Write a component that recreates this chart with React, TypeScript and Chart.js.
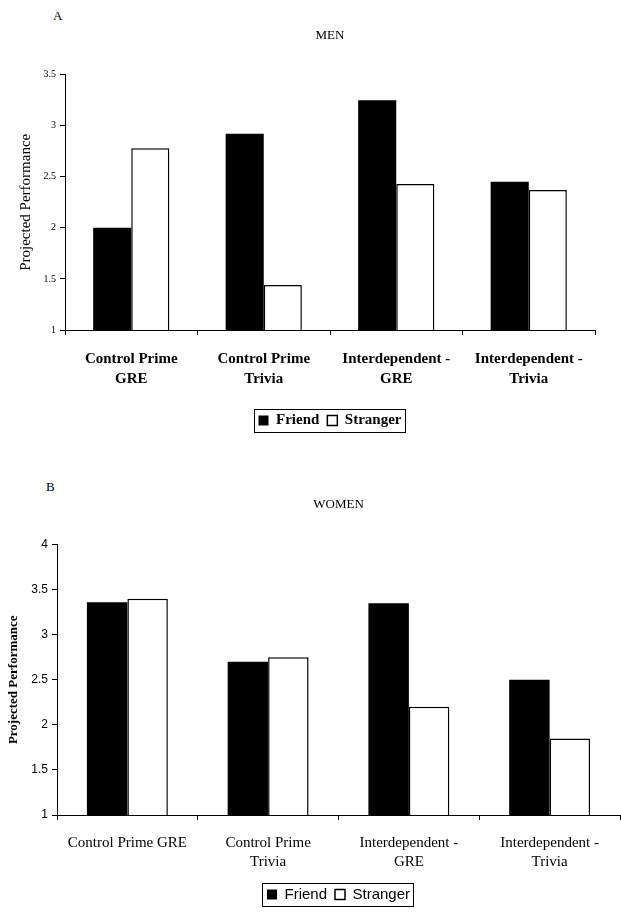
import React, { useEffect, useRef } from 'react';
import { Chart, registerables } from 'chart.js';

Chart.register(...registerables);

// ---- data ----
const seriesNames = ['Friend', 'Stranger'];
const menCategories: (string | string[])[] = [
  ['Control Prime', 'GRE'],
  ['Control Prime', 'Trivia'],
  ['Interdependent -', 'GRE'],
  ['Interdependent -', 'Trivia'],
];
const womenCategories: (string | string[])[] = [
  'Control Prime GRE',
  ['Control Prime', 'Trivia'],
  ['Interdependent -', 'GRE'],
  ['Interdependent -', 'Trivia'],
];
const menFriend = [2.0, 2.92, 3.25, 2.45];
const menStranger = [2.78, 1.44, 2.43, 2.37];
const womenFriend = [3.36, 2.7, 3.35, 2.5];
const womenStranger = [3.4, 2.75, 2.2, 1.85];
const menYRange = [1, 3.5];
const womenYRange = [1, 4];
const yStep = 0.5;

const SERIF = "'Liberation Serif', 'Times New Roman', serif";
const SANS = "'Liberation Sans', Arial, sans-serif";

const legendBorder = {
  id: 'legendBorder',
  afterDraw(chart: any) {
    const lg = chart.legend;
    if (!lg || !lg.legendHitBoxes || !lg.legendHitBoxes.length) return;
    let l = Infinity, r = -Infinity, t = Infinity, b = -Infinity;
    for (const h of lg.legendHitBoxes) {
      l = Math.min(l, h.left);
      r = Math.max(r, h.left + h.width);
      t = Math.min(t, h.top);
      b = Math.max(b, h.top + h.height);
    }
    const ctx = chart.ctx;
    ctx.save();
    ctx.strokeStyle = '#000';
    ctx.lineWidth = 1;
    ctx.strokeRect(Math.round(l - 5) + 0.5, Math.round(t - 4) + 0.5, Math.round(r - l + 8), Math.round(b - t + 8));
    ctx.restore();
  },
};

type PanelProps = {
  categories: (string | string[])[];
  friend: number[];
  stranger: number[];
  yRange: number[];
  title: string;
  titlePadTop: number;
  titlePadBottom: number;
  yWidth: number;
  xHeight: number;
  xTickPad: number;
  padRight: number;
  padBottom: number;
  yTickFont: any;
  yTitleFont: any;
  yTitlePad: number;
  xTickFont: any;
  legendFont: any;
};

function Panel(p: PanelProps) {
  const ref = useRef<HTMLCanvasElement | null>(null);
  useEffect(() => {
    if (!ref.current) return;
    const chart = new Chart(ref.current, {
      type: 'bar',
      data: {
        labels: p.categories as any,
        datasets: [
          {
            label: seriesNames[0],
            data: p.friend,
            backgroundColor: '#000',
            borderColor: '#000',
            borderWidth: 0,
            barPercentage: 1,
            categoryPercentage: 0.575,
          },
          {
            label: seriesNames[1],
            data: p.stranger,
            backgroundColor: '#fff',
            borderColor: '#000',
            borderWidth: 1.5,
            barPercentage: 1,
            categoryPercentage: 0.575,
          },
        ],
      },
      options: {
        animation: false,
        responsive: true,
        maintainAspectRatio: false,
        color: '#000',
        layout: { padding: { left: 0, right: p.padRight, top: 0, bottom: p.padBottom } },
        plugins: {
          title: {
            display: true,
            text: p.title,
            fullSize: false,
            color: '#000',
            font: { family: SERIF, size: 13, weight: 'normal' },
            padding: { top: p.titlePadTop, bottom: p.titlePadBottom },
          },
          legend: {
            display: true,
            position: 'bottom',
            fullSize: false,
            labels: {
              color: '#000',
              font: p.legendFont,
              boxWidth: 10,
              boxHeight: 10,
              padding: 8,
            },
          },
          tooltip: { enabled: false },
        },
        scales: {
          x: {
            grid: { display: true, drawOnChartArea: false, drawTicks: true, tickLength: 5, color: '#000', offset: true },
            border: { display: true, color: '#000', width: 1 },
            ticks: { color: '#000', font: p.xTickFont, padding: p.xTickPad, maxRotation: 0, autoSkip: false },
            afterFit: (s: any) => { s.height = p.xHeight; },
          },
          y: {
            min: p.yRange[0],
            max: p.yRange[1],
            grid: { display: true, drawOnChartArea: false, drawTicks: true, tickLength: 5, color: '#000' },
            border: { display: true, color: '#000', width: 1 },
            ticks: {
              stepSize: yStep,
              color: '#000',
              font: p.yTickFont,
              padding: 4,
              callback: (v: any) => String(Number(v)),
            },
            title: {
              display: true,
              text: 'Projected Performance',
              color: '#000',
              font: p.yTitleFont,
              padding: { top: p.yTitlePad, bottom: 0 },
            },
            afterFit: (s: any) => { s.width = p.yWidth; },
          },
        },
      },
      plugins: [legendBorder],
    } as any);
    return () => chart.destroy();
  }, []);
  return <canvas ref={ref} />;
}

const letterStyle: React.CSSProperties = {
  position: 'absolute',
  fontFamily: SERIF,
  fontSize: 13,
  lineHeight: '15px',
  color: '#000',
};

export default function App() {
  return (
    <div style={{ position: 'absolute', left: 0, top: 0, width: 621, height: 918, background: '#fff' }}>
      <div style={{ ...letterStyle, left: 53, top: 8 }}>A</div>
      <div style={{ ...letterStyle, left: 46, top: 479 }}>B</div>
      <div style={{ position: 'absolute', left: 0, top: 0, width: 621, height: 455 }}>
        <Panel
          categories={menCategories}
          friend={menFriend}
          stranger={menStranger}
          yRange={menYRange}
          title="MEN"
          titlePadTop={28}
          titlePadBottom={31}
          yWidth={65}
          xHeight={75}
          xTickPad={14}
          padRight={26}
          padBottom={17}
          yTickFont={{ family: SERIF, size: 10 }}
          yTitleFont={{ family: SERIF, size: 15 }}
          yTitlePad={17}
          xTickFont={{ family: SERIF, size: 15, weight: 'bold', lineHeight: 1.35 }}
          legendFont={{ family: SERIF, size: 15, weight: 'bold' }}
        />
      </div>
      <div style={{ position: 'absolute', left: 0, top: 460, width: 621, height: 458 }}>
        <Panel
          categories={womenCategories}
          friend={womenFriend}
          stranger={womenStranger}
          yRange={womenYRange}
          title="WOMEN"
          titlePadTop={37}
          titlePadBottom={32}
          yWidth={57}
          xHeight={64}
          xTickPad={13}
          padRight={1}
          padBottom={6}
          yTickFont={{ family: SANS, size: 12 }}
          yTitleFont={{ family: SERIF, size: 13, weight: 'bold' }}
          yTitlePad={6}
          xTickFont={{ family: SERIF, size: 15, lineHeight: 1.3 }}
          legendFont={{ family: SANS, size: 15 }}
        />
      </div>
    </div>
  );
}
